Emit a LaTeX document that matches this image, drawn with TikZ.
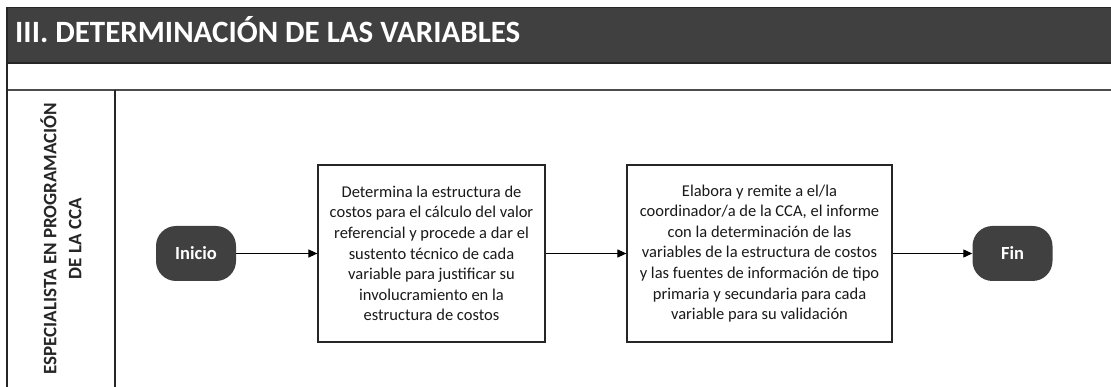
\documentclass[tikz,border=0pt]{standalone}
\usepackage{fontspec}
\setmainfont{Carlito}
\usetikzlibrary{arrows.meta}
\definecolor{hdr}{HTML}{404040}
\tikzset{
  pill/.style={draw=none, fill=hdr, rounded corners=20pt, minimum width=80pt, minimum height=55pt, text=white, font=\fontsize{18.5}{22}\selectfont\bfseries, inner sep=0pt},
  procbox/.style={draw=black!85, line width=1.2pt, fill=white, align=center, minimum height=177pt, inner sep=0pt, font=\fontsize{16.5}{20.6}\selectfont, text=black!90},
  flow/.style={draw=black, line width=1.1pt, -{Triangle[length=9pt,width=8pt]}},
  frame/.style={draw=black!85, line width=1.4pt}
}
\begin{document}
\begin{tikzpicture}[x=1pt,y=-1pt]
\useasboundingbox (0,0) rectangle (1111,387);
\clip (0,0) rectangle (1111,387);
% header
\fill[white] (0,0) rectangle (1111,387);
\draw[frame, fill=hdr] (7,7.5) rectangle (1130,63);
\node[anchor=base west, inner sep=0pt, text=white, font=\fontsize{31}{36}\selectfont\bfseries] (title) at (15,43) {III. DETERMINACIÓN DE LAS VARIABLES};
% second row and lane
\draw[draw=black!70, line width=1.6pt] (7,90) -- (1130,90);
\draw[frame] (7,63) -- (7,400);
\draw[frame] (115,90) -- (115,400);
\node[rotate=90, align=center, inner sep=0pt, text=black!85, font=\fontsize{19}{25}\selectfont\bfseries] (lane) at (61,238.5) {ESPECIALISTA EN PROGRAMACIÓN\\DE LA CCA};
% nodes
\node[pill] (inicio) at (196,253.5) {Inicio};
\node[procbox, minimum width=227pt] (p1) at (431.5,253.5) {Determina la estructura de\\costos para el cálculo del valor\\referencial y procede a dar el\\sustento técnico de cada\\variable para justificar su\\involucramiento en la\\estructura de costos};
\node[procbox, minimum width=265pt] (p2) at (759.5,253.5) {Elabora y remite a el/la\\coordinador/a de la CCA, el informe\\con la determinación de las\\variables de la estructura de costos\\y las fuentes de información de tipo\\primaria y secundaria para cada\\variable para su validación};
\node[pill] (fin) at (1012.5,253.5) {Fin};
% connectors
\draw[flow] (inicio) -- (p1);
\draw[flow] (p1) -- (p2);
\draw[flow] (p2) -- (fin);
\end{tikzpicture}
\end{document}
